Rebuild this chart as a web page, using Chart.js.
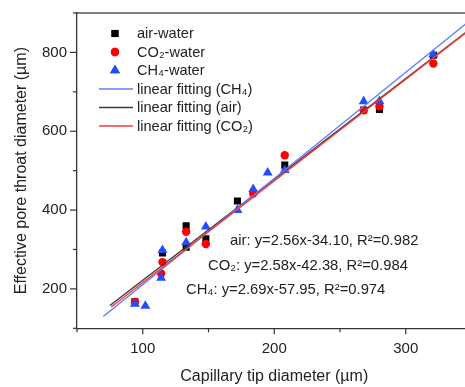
<!DOCTYPE html>
<html>
<head>
<meta charset="utf-8">
<script src="https://cdn.jsdelivr.net/npm/chart.js@4.4.0/dist/chart.umd.min.js"></script>
<style>
  html, body { margin: 0; padding: 0; background: #fff; overflow: hidden; }
  canvas { display: block; }
</style>
</head>
<body>
<canvas id="fitChart" width="490" height="387"></canvas>
<script>
// measured points (capillary tip diameter vs effective pore throat diameter, µm)
const airX = [94, 115, 133, 133, 148, 172, 208, 268, 280, 321];
const airY = [167, 291, 360, 306, 327, 423, 514, 654, 655, 793];

const co2X = [94, 114, 115, 133, 148, 184, 208, 268, 280, 321];
const co2Y = [167, 239, 268, 345, 314, 442, 539, 653, 663, 772];

const ch4X = [94, 102, 114, 115, 133, 148, 172, 184, 195, 208, 268, 280, 321];
const ch4Y = [162, 157, 228, 298, 318, 358, 400, 453, 495, 501, 676, 676, 795];

// fitted lines, end points
const fitCh4X = [70, 350];
const fitCh4Y = [130, 884];
const fitAirX = [75, 350];
const fitAirY = [158, 862];
const fitCo2X = [76, 350];
const fitCo2Y = [154, 861];

const legendLabels = ['air-water', 'CO₂-water', 'CH₄-water',
    'linear fitting (CH₄)', 'linear fitting (air)', 'linear fitting (CO₂)'];

const fitTexts = [
    'air: y=2.56x-34.10, R²=0.982',
    'CO₂: y=2.58x-42.38, R²=0.984',
    'CH₄: y=2.69x-57.95, R²=0.974'
];

const FONT = '"Liberation Sans", Arial, sans-serif';
const TEXT = '#222';
const AXIS = '#333';

const toPoints = (xs, ys) => xs.map((x, i) => ({ x: x, y: ys[i] }));

// legend drawn by hand inside the plot (top left)
const insideLegend = {
    id: 'insideLegend',
    afterDraw(chart) {
        const ctx = chart.ctx;
        const ds = chart.data.datasets;
        ctx.save();
        ctx.font = '14.6px ' + FONT;
        ctx.textBaseline = 'middle';
        ctx.textAlign = 'left';
        ds.forEach((d, row) => {
            const y = 33.5 + row * 18.5;
            if (d.showLine) {
                ctx.strokeStyle = d.borderColor;
                ctx.lineWidth = 1.6;
                ctx.beginPath();
                ctx.moveTo(99, y);
                ctx.lineTo(133, y);
                ctx.stroke();
            } else {
                Chart.helpers.drawPoint(ctx, {
                    pointStyle: d.pointStyle,
                    radius: d.pointRadius,
                    rotation: 0,
                    borderWidth: 0
                }, 115, y);
                ctx.fillStyle = d.backgroundColor;
                ctx.fill();
            }
            ctx.fillStyle = TEXT;
            ctx.fillText(legendLabels[row], 137, y + 0.5);
        });
        ctx.restore();
    }
};

// equations, minor/major ticks and the top frame line
const extras = {
    id: 'extras',
    afterDraw(chart) {
        const ctx = chart.ctx;
        const area = chart.chartArea;
        const xs = chart.scales.x;
        const ys = chart.scales.y;
        ctx.save();

        ctx.strokeStyle = '#555';
        ctx.lineWidth = 1.3;
        ctx.beginPath();
        ctx.moveTo(area.left, area.top);
        ctx.lineTo(area.right, area.top);
        ctx.stroke();

        ctx.strokeStyle = AXIS;
        ctx.lineWidth = 1.2;
        xs.ticks.forEach(t => {
            const px = xs.getPixelForValue(t.value);
            const len = t.value % 100 === 0 ? 6 : 4;
            ctx.beginPath();
            ctx.moveTo(px, area.bottom);
            ctx.lineTo(px, area.bottom + len);
            ctx.stroke();
        });
        ys.ticks.forEach(t => {
            const py = ys.getPixelForValue(t.value);
            const len = t.value % 200 === 0 ? 7 : 4;
            ctx.beginPath();
            ctx.moveTo(area.left, py);
            ctx.lineTo(area.left - len, py);
            ctx.stroke();
        });

        ctx.font = '14.8px ' + FONT;
        ctx.fillStyle = TEXT;
        ctx.textBaseline = 'middle';
        ctx.textAlign = 'left';
        ctx.fillText(fitTexts[0], 230, 241);
        ctx.fillText(fitTexts[1], 208, 266);
        ctx.fillText(fitTexts[2], 186, 290);
        ctx.restore();
    }
};

const ctx = document.getElementById('fitChart').getContext('2d');

new Chart(ctx, {
    type: 'scatter',
    data: {
        datasets: [
            {
                label: 'air-water',
                data: toPoints(airX, airY),
                pointStyle: 'rect',
                pointRadius: 5,
                backgroundColor: '#000',
                borderWidth: 0,
                order: 3
            },
            {
                label: 'CO2-water',
                data: toPoints(co2X, co2Y),
                pointStyle: 'circle',
                pointRadius: 4.2,
                backgroundColor: '#ff0000',
                borderWidth: 0,
                order: 2
            },
            {
                label: 'CH4-water',
                data: toPoints(ch4X, ch4Y),
                pointStyle: 'triangle',
                pointRadius: 5.7,
                backgroundColor: '#1f4dff',
                borderWidth: 0,
                order: 1
            },
            {
                label: 'linear fitting (CH4)',
                data: toPoints(fitCh4X, fitCh4Y),
                showLine: true,
                pointRadius: 0,
                borderColor: 'rgb(95,125,255)',
                borderWidth: 1.4,
                order: -1
            },
            {
                label: 'linear fitting (air)',
                data: toPoints(fitAirX, fitAirY),
                showLine: true,
                pointRadius: 0,
                borderColor: 'rgb(60,60,60)',
                borderWidth: 1.4,
                order: 0
            },
            {
                label: 'linear fitting (CO2)',
                data: toPoints(fitCo2X, fitCo2Y),
                showLine: true,
                pointRadius: 0,
                borderColor: 'rgb(238,60,60)',
                borderWidth: 1.4,
                order: -2
            }
        ]
    },
    options: {
        responsive: false,
        animation: false,
        layout: { padding: { left: 0, right: 18.5, top: 11, bottom: 0 } },
        plugins: {
            legend: { display: false },
            tooltip: { enabled: false }
        },
        scales: {
            x: {
                type: 'linear',
                min: 50,
                max: 350,
                border: { display: true, color: AXIS, width: 1.3 },
                grid: { drawOnChartArea: false, tickColor: 'transparent', tickLength: 6 },
                ticks: {
                    stepSize: 50,
                    autoSkip: false,
                    maxRotation: 0,
                    padding: 6,
                    color: TEXT,
                    font: { family: FONT, size: 15 },
                    callback: v => (v % 100 === 0 ? v : '')
                },
                title: {
                    display: true,
                    text: 'Capillary tip diameter (µm)',
                    color: TEXT,
                    font: { family: FONT, size: 16 },
                    padding: { top: 0, bottom: 0.5 }
                },
                afterFit: scale => { scale.height = 58.7; }
            },
            y: {
                type: 'linear',
                min: 100,
                max: 900,
                border: { display: true, color: AXIS, width: 1.3 },
                grid: { drawOnChartArea: false, tickColor: 'transparent', tickLength: 6 },
                ticks: {
                    stepSize: 100,
                    autoSkip: false,
                    padding: 4,
                    color: TEXT,
                    font: { family: FONT, size: 15 },
                    callback: v => (v % 200 === 0 ? v : '')
                },
                title: {
                    display: true,
                    text: 'Effective pore throat diameter (µm)',
                    color: TEXT,
                    font: { family: FONT, size: 16 },
                    padding: { top: 12.4, bottom: 0 }
                },
                afterFit: scale => { scale.width = 77; }
            }
        }
    },
    plugins: [extras, insideLegend]
});
</script>
</body>
</html>
